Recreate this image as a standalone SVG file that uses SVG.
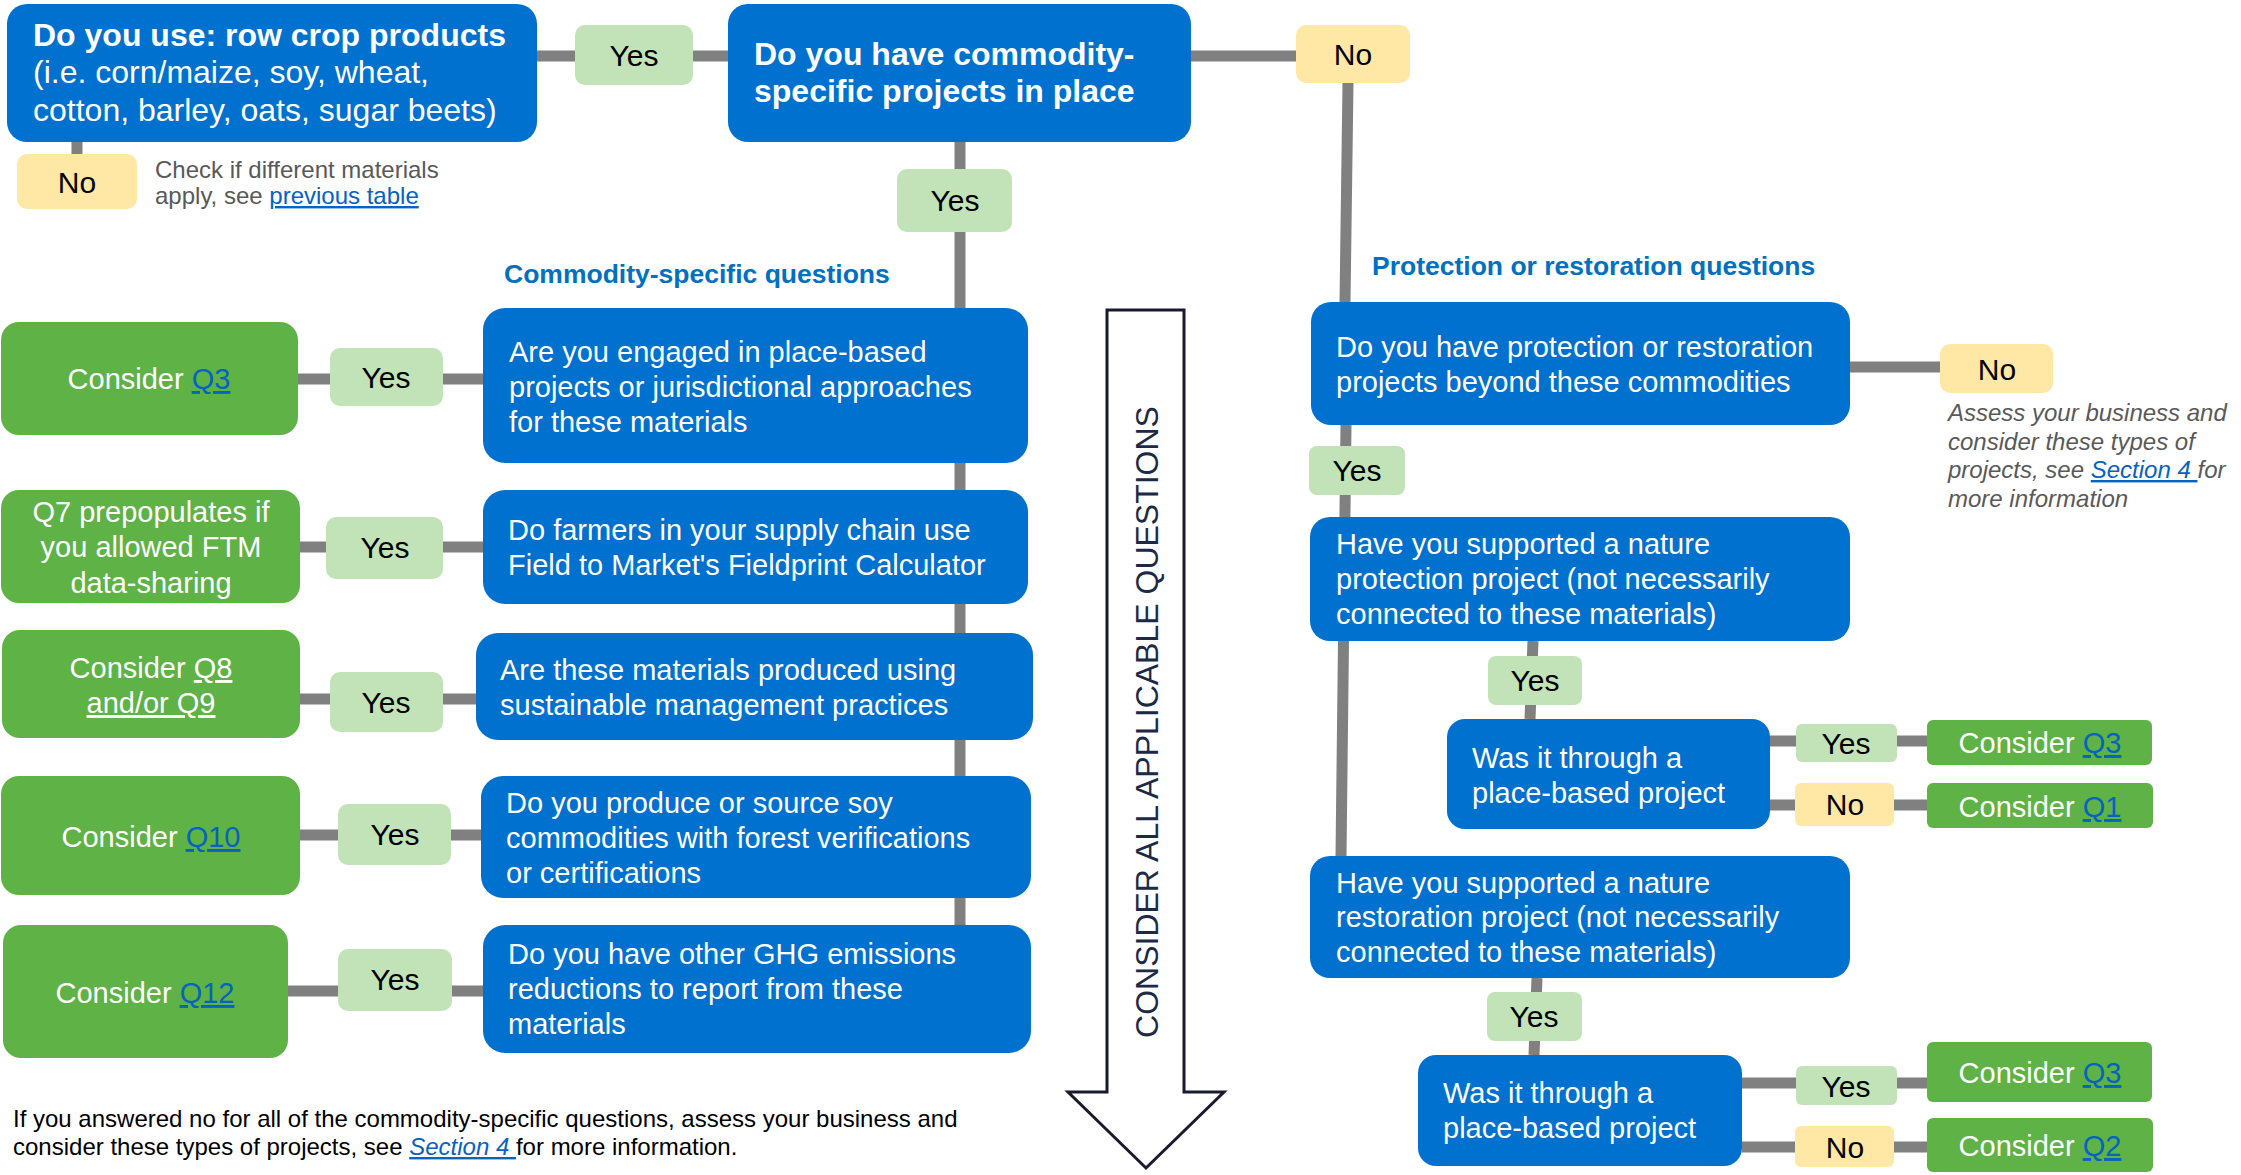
<svg xmlns="http://www.w3.org/2000/svg" width="2241" height="1175" viewBox="0 0 2241 1175">
<style>
text{font-family:"Liberation Sans",Arial,sans-serif}
.q{fill:#0071CE}
.g{fill:#5EB246}
.y{fill:#C2E2B7}
.n{fill:#FFE7A6}
.w{fill:#fff;font-size:29px}
.wb{fill:#fff;font-size:32px}
.wc{fill:#fff;font-size:29px;text-anchor:middle}
.lbl{font-size:30px;fill:#000;text-anchor:middle}
.c{fill:none;stroke:#808080;stroke-width:11}
.lk{fill:#0563C1;text-decoration:underline}
.wl{fill:#fff;text-decoration:underline}
.hd{font-size:26.5px;font-weight:bold;fill:#0070C0}
.gr{font-size:24px;fill:#595959}
</style>
<rect width="2241" height="1175" fill="#fff"/>
<g id="connectors">
<path class="c" d="M537,56 H728"/>
<path class="c" d="M77,142 V154"/>
<path class="c" d="M1191,56 H1296"/>
<path class="c" d="M1348,83 L1345,302"/>
<path class="c" d="M960,142 V925"/>
<path class="c" d="M298,379 H483"/>
<path class="c" d="M300,547 H483"/>
<path class="c" d="M300,699 H476"/>
<path class="c" d="M300,835 H482"/>
<path class="c" d="M288,991 H483"/>
<path class="c" d="M1850,367 H1940"/>
<path class="c" d="M1346,425 L1341,856"/>
<path class="c" d="M1533,641 L1530,719"/>
<path class="c" d="M1769,741 H1927"/>
<path class="c" d="M1767,805 H1927"/>
<path class="c" d="M1537,978 L1534,1055"/>
<path class="c" d="M1742,1083 H1927"/>
<path class="c" d="M1742,1147 H1927"/>
</g>
<g id="arrow">
<polygon points="1107,310 1184,310 1184,1092 1224,1092 1146,1168 1068,1092 1107,1092" fill="#fff" stroke="#1A1A2E" stroke-width="3"/>
<text transform="translate(1158,722) rotate(-90)" text-anchor="middle" font-size="32" fill="#1B2A47">CONSIDER ALL APPLICABLE QUESTIONS</text>
</g>
<g id="n1"><rect class="q" x="7" y="4" width="530" height="138" rx="20"/>
<text class="wb" x="33" y="46"><tspan font-weight="bold">Do you use: row crop products</tspan><tspan x="33" y="83">(i.e. corn/maize, soy, wheat,</tspan><tspan x="33" y="121">cotton, barley, oats, sugar beets)</tspan></text></g>
<g id="n1-yes"><rect class="y" x="575" y="25" width="118" height="60" rx="10"/><text class="lbl" x="634" y="66">Yes</text></g>
<g id="n1-no"><rect class="n" x="17" y="154" width="120" height="55" rx="10"/><text class="lbl" x="77" y="193">No</text></g>
<g id="n1-note"><text class="gr" x="155" y="178">Check if different materials</text><text class="gr" x="155" y="204">apply, see <tspan class="lk">previous table</tspan></text></g>
<g id="n2"><rect class="q" x="728" y="4" width="463" height="138" rx="20"/>
<text class="wb" x="754" y="65" font-weight="bold">Do you have commodity-<tspan x="754" y="102">specific projects in place</tspan></text></g>
<g id="n2-no"><rect class="n" x="1296" y="25" width="114" height="58" rx="10"/><text class="lbl" x="1353" y="65">No</text></g>
<g id="n2-yes"><rect class="y" x="897" y="169" width="115" height="63" rx="10"/><text class="lbl" x="955" y="211">Yes</text></g>
<g id="hdr-commodity"><text class="hd" x="504" y="283">Commodity-specific questions</text></g>
<g id="hdr-protection"><text class="hd" x="1372" y="275">Protection or restoration questions</text></g>
<g id="c1"><rect class="q" x="483" y="308" width="545" height="155" rx="22"/>
<text class="w" x="509" y="362">Are you engaged in place-based<tspan x="509" y="397">projects or jurisdictional approaches</tspan><tspan x="509" y="432">for these materials</tspan></text></g>
<g id="c2"><rect class="q" x="483" y="490" width="545" height="114" rx="22"/>
<text class="w" x="508" y="540">Do farmers in your supply chain use<tspan x="508" y="575">Field to Market's Fieldprint Calculator</tspan></text></g>
<g id="c3"><rect class="q" x="476" y="633" width="557" height="107" rx="22"/>
<text class="w" x="500" y="680">Are these materials produced using<tspan x="500" y="715">sustainable management practices</tspan></text></g>
<g id="c4"><rect class="q" x="481" y="776" width="550" height="122" rx="22"/>
<text class="w" x="506" y="813">Do you produce or source soy<tspan x="506" y="848">commodities with forest verifications</tspan><tspan x="506" y="883">or certifications</tspan></text></g>
<g id="c5"><rect class="q" x="483" y="925" width="548" height="128" rx="22"/>
<text class="w" x="508" y="964">Do you have other GHG emissions<tspan x="508" y="999">reductions to report from these</tspan><tspan x="508" y="1034">materials</tspan></text></g>
<g id="g1"><rect class="g" x="1" y="322" width="297" height="113" rx="18"/><text class="wc" x="149" y="389">Consider <tspan class="lk">Q3</tspan></text></g>
<g id="g1-yes"><rect class="y" x="330" y="348" width="113" height="58" rx="10"/><text class="lbl" x="386" y="388">Yes</text></g>
<g id="g2"><rect class="g" x="1" y="490" width="299" height="113" rx="18"/><text class="wc" x="151" y="522">Q7 prepopulates if<tspan x="151" y="557">you allowed FTM</tspan><tspan x="151" y="593">data-sharing</tspan></text></g>
<g id="g2-yes"><rect class="y" x="326" y="517" width="117" height="62" rx="10"/><text class="lbl" x="385" y="558">Yes</text></g>
<g id="g3"><rect class="g" x="2" y="630" width="298" height="108" rx="18"/><text class="wc" x="151" y="678">Consider <tspan class="wl">Q8</tspan><tspan x="151" y="713" class="wl">and/or Q9</tspan></text></g>
<g id="g3-yes"><rect class="y" x="330" y="672" width="113" height="60" rx="10"/><text class="lbl" x="386" y="713">Yes</text></g>
<g id="g4"><rect class="g" x="1" y="776" width="299" height="119" rx="18"/><text class="wc" x="151" y="847">Consider <tspan class="lk">Q10</tspan></text></g>
<g id="g4-yes"><rect class="y" x="338" y="804" width="113" height="61" rx="10"/><text class="lbl" x="395" y="845">Yes</text></g>
<g id="g5"><rect class="g" x="3" y="925" width="285" height="133" rx="18"/><text class="wc" x="145" y="1003">Consider <tspan class="lk">Q12</tspan></text></g>
<g id="g5-yes"><rect class="y" x="338" y="949" width="114" height="62" rx="10"/><text class="lbl" x="395" y="990">Yes</text></g>
<g id="footnote"><text font-size="24" fill="#000" x="13" y="1127">If you answered no for all of the commodity-specific questions, assess your business and</text>
<text font-size="24" fill="#000" x="13" y="1155">consider these types of projects, see <tspan class="lk" font-style="italic"> Section 4 </tspan>for more information.</text></g>
<g id="p1"><rect class="q" x="1311" y="302" width="539" height="123" rx="20"/>
<text class="w" x="1336" y="357">Do you have protection or restoration<tspan x="1336" y="392">projects beyond these commodities</tspan></text></g>
<g id="p1-no"><rect class="n" x="1940" y="344" width="113" height="49" rx="10"/><text class="lbl" x="1997" y="380">No</text></g>
<g id="p1-note" font-style="italic"><text font-size="24" fill="#595959" x="1948" y="421">Assess your business and<tspan x="1948" y="450">consider these types of</tspan><tspan x="1948" y="478">projects, see <tspan class="lk">Section 4 </tspan>for</tspan><tspan x="1948" y="507">more information</tspan></text></g>
<g id="p1-yes"><rect class="y" x="1309" y="446" width="96" height="49" rx="8"/><text class="lbl" x="1357" y="481">Yes</text></g>
<g id="p2"><rect class="q" x="1310" y="517" width="540" height="124" rx="20"/>
<text class="w" x="1336" y="554">Have you supported a nature<tspan x="1336" y="589">protection project (not necessarily</tspan><tspan x="1336" y="624">connected to these materials)</tspan></text></g>
<g id="p2-yes"><rect class="y" x="1488" y="656" width="94" height="49" rx="8"/><text class="lbl" x="1535" y="691">Yes</text></g>
<g id="w1"><rect class="q" x="1447" y="719" width="323" height="110" rx="18"/>
<text class="w" x="1472" y="768">Was it through a<tspan x="1472" y="803">place-based project</tspan></text></g>
<g id="w1-yes"><rect class="y" x="1796" y="724" width="101" height="38" rx="6"/><text class="lbl" x="1846" y="754">Yes</text></g>
<g id="w1-q3"><rect class="g" x="1927" y="720" width="225" height="45" rx="6"/><text class="wc" x="2040" y="753">Consider <tspan class="lk">Q3</tspan></text></g>
<g id="w1-no"><rect class="n" x="1795" y="783" width="99" height="43" rx="6"/><text class="lbl" x="1845" y="815">No</text></g>
<g id="w1-q1"><rect class="g" x="1927" y="783" width="226" height="45" rx="6"/><text class="wc" x="2040" y="817">Consider <tspan class="lk">Q1</tspan></text></g>
<g id="p3"><rect class="q" x="1310" y="856" width="540" height="122" rx="20"/>
<text class="w" x="1336" y="893">Have you supported a nature<tspan x="1336" y="927">restoration project (not necessarily</tspan><tspan x="1336" y="962">connected to these materials)</tspan></text></g>
<g id="p3-yes"><rect class="y" x="1487" y="992" width="95" height="49" rx="8"/><text class="lbl" x="1534" y="1027">Yes</text></g>
<g id="w2"><rect class="q" x="1418" y="1055" width="324" height="111" rx="18"/>
<text class="w" x="1443" y="1103">Was it through a<tspan x="1443" y="1138">place-based project</tspan></text></g>
<g id="w2-yes"><rect class="y" x="1796" y="1066" width="101" height="39" rx="6"/><text class="lbl" x="1846" y="1097">Yes</text></g>
<g id="w2-q3"><rect class="g" x="1927" y="1042" width="225" height="60" rx="6"/><text class="wc" x="2040" y="1083">Consider <tspan class="lk">Q3</tspan></text></g>
<g id="w2-no"><rect class="n" x="1795" y="1126" width="99" height="41" rx="6"/><text class="lbl" x="1845" y="1158">No</text></g>
<g id="w2-q2"><rect class="g" x="1927" y="1118" width="226" height="54" rx="6"/><text class="wc" x="2040" y="1156">Consider <tspan class="lk">Q2</tspan></text></g>
</svg>
